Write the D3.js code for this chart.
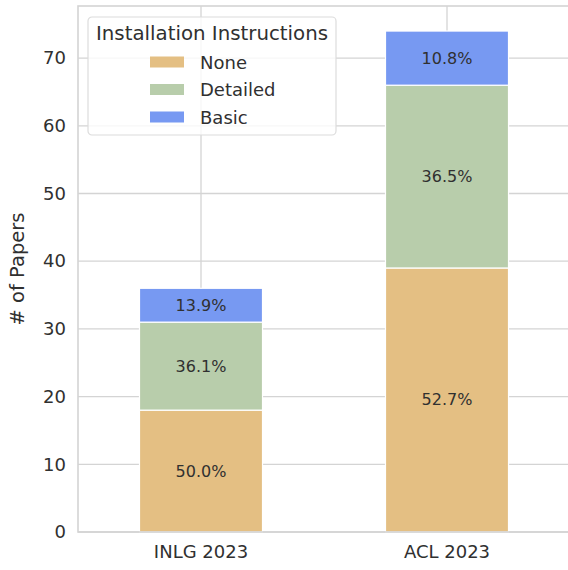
<!DOCTYPE html>
<html>
<head>
<meta charset="utf-8">
<script src="https://cdn.jsdelivr.net/npm/d3@7"></script>
<style>
  body { margin: 0; background: #fff; }
  svg { font-family: "DejaVu Sans", sans-serif; }
</style>
</head>
<body>
<svg id="chart" width="568" height="570"></svg>
<script>
// data
var venues = ['INLG 2023', 'ACL 2023'];
var categories = ['None', 'Detailed', 'Basic'];
var noneCounts = [18, 39];
var detailedCounts = [13, 27];
var basicCounts = [5, 8];
var yTicks = [0, 10, 20, 30, 40, 50, 60, 70];
var colors = ['#e4bf83', '#b8cdab', '#7799f2'];

var rows = venues.map(function(v, i) {
  return { venue: v, None: noneCounts[i], Detailed: detailedCounts[i], Basic: basicCounts[i] };
});

var svg = d3.select('#chart');
var margin = { left: 78, top: 6, bottom: 38 };
var plotW = 492; // extends past the right edge like the original crop
var plotH = 570 - margin.top - margin.bottom;

var totals = rows.map(function(r) { return r.None + r.Detailed + r.Basic; });
var y = d3.scaleLinear()
  .domain([0, d3.max(totals) * 1.05])
  .range([margin.top + plotH, margin.top]);

var x = d3.scaleBand()
  .domain(venues)
  .range([margin.left, margin.left + plotW])
  .paddingInner(0.5)
  .paddingOuter(0.25);

var gridColor = '#d4d4d4';
var textColor = '#303030';

// grid
svg.append('g').selectAll('line.hgrid')
  .data(yTicks)
  .enter().append('line')
  .attr('x1', margin.left).attr('x2', margin.left + plotW)
  .attr('y1', function(d) { return y(d); })
  .attr('y2', function(d) { return y(d); })
  .attr('stroke', gridColor).attr('stroke-width', 1.3);

svg.append('g').selectAll('line.vgrid')
  .data(venues)
  .enter().append('line')
  .attr('x1', function(d) { return x(d) + x.bandwidth() / 2; })
  .attr('x2', function(d) { return x(d) + x.bandwidth() / 2; })
  .attr('y1', margin.top).attr('y2', margin.top + plotH)
  .attr('stroke', gridColor).attr('stroke-width', 1.3);

// stacked bars
var stack = d3.stack().keys(categories);
var series = stack(rows);

var groups = svg.append('g').selectAll('g.series')
  .data(series)
  .enter().append('g')
  .attr('fill', function(d, i) { return colors[i]; });

groups.selectAll('rect')
  .data(function(d) { return d; })
  .enter().append('rect')
  .attr('x', function(d) { return x(d.data.venue); })
  .attr('width', x.bandwidth())
  .attr('y', function(d) { return y(d[1]); })
  .attr('height', function(d) { return y(d[0]) - y(d[1]); })
  .attr('stroke', '#fff')
  .attr('stroke-width', 1.2);

groups.selectAll('text')
  .data(function(d) { return d; })
  .enter().append('text')
  .attr('x', function(d) { return x(d.data.venue) + x.bandwidth() / 2; })
  .attr('y', function(d) { return (y(d[0]) + y(d[1])) / 2; })
  .attr('text-anchor', 'middle')
  .attr('dominant-baseline', 'central')
  .attr('fill', textColor)
  .attr('font-size', 16)
  .text(function(d) {
    var total = d.data.None + d.data.Detailed + d.data.Basic;
    return ((d[1] - d[0]) / total * 100).toFixed(1) + '%';
  });

// spines
svg.append('rect')
  .attr('x', margin.left).attr('y', margin.top)
  .attr('width', plotW).attr('height', plotH)
  .attr('fill', 'none').attr('stroke', gridColor).attr('stroke-width', 1.6);

// axes
var yAxis = svg.append('g')
  .attr('transform', 'translate(' + margin.left + ',0)')
  .call(d3.axisLeft(y).tickValues(yTicks).tickSize(0).tickPadding(12));
yAxis.select('.domain').remove();
yAxis.selectAll('text').attr('font-size', 18).attr('fill', textColor)
  .attr('font-family', '"DejaVu Sans", sans-serif');

var xAxis = svg.append('g')
  .attr('transform', 'translate(0,' + (margin.top + plotH) + ')')
  .call(d3.axisBottom(x).tickSize(0).tickPadding(13));
xAxis.select('.domain').remove();
xAxis.selectAll('text').attr('font-size', 18).attr('fill', textColor)
  .attr('font-family', '"DejaVu Sans", sans-serif');

svg.append('text')
  .attr('transform', 'translate(24,' + (margin.top + plotH / 2) + ') rotate(-90)')
  .attr('text-anchor', 'middle')
  .attr('font-size', 19.5)
  .attr('fill', textColor)
  .text('# of Papers');

// legend
var legend = svg.append('g').attr('transform', 'translate(88,17)');
legend.append('rect')
  .attr('width', 248).attr('height', 118)
  .attr('rx', 4)
  .attr('fill', 'rgba(255,255,255,0.8)')
  .attr('stroke', '#dcdcdc').attr('stroke-width', 1.2);
legend.append('text')
  .attr('x', 124).attr('y', 16)
  .attr('text-anchor', 'middle')
  .attr('dominant-baseline', 'central')
  .attr('font-size', 19.8).attr('fill', textColor)
  .text('Installation Instructions');

var items = legend.selectAll('g.item')
  .data(categories)
  .enter().append('g')
  .attr('transform', function(d, i) { return 'translate(62,' + (45 + i * 27.5) + ')'; });
items.append('rect')
  .attr('x', 0).attr('y', -5.5)
  .attr('width', 34).attr('height', 11)
  .attr('fill', function(d, i) { return colors[i]; });
items.append('text')
  .attr('x', 50).attr('y', 0)
  .attr('dominant-baseline', 'central')
  .attr('font-size', 18).attr('fill', textColor)
  .text(function(d) { return d; });
</script>
</body>
</html>
